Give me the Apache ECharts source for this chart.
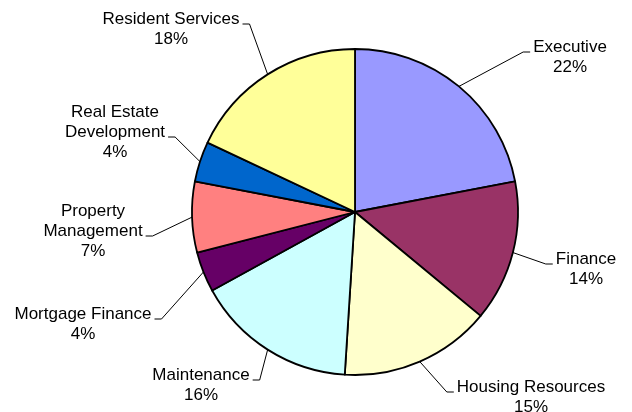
<!DOCTYPE html>
<html>
<head>
<meta charset="utf-8">
<title>Staff by Department</title>
<script src="https://cdn.jsdelivr.net/npm/echarts@6/dist/echarts.min.js"></script>
<style>
  html, body { margin: 0; padding: 0; background: #fff; }
  #chart { width: 632px; height: 412px; }
</style>
</head>
<body>
<div id="chart"></div>
<script>
// Departments, clockwise from 12 o'clock
const departments = [
  'Executive',
  'Finance',
  'Housing Resources',
  'Maintenance',
  'Mortgage Finance',
  'Property\nManagement',
  'Real Estate\nDevelopment',
  'Resident Services'
];

// Share of total, in percent
const shares = [22, 14, 15, 16, 4, 7, 4, 18];

const sliceColors = [
  '#9999FF', '#993366', '#FFFFCC', '#CCFFFF',
  '#660066', '#FF8080', '#0066CC', '#FFFF99'
];

// Label placement: [text centre x, baseline y of the first line]
const labelSpots = [
  [570, 53], [586, 265], [531, 393], [201, 381],
  [83, 320], [93, 217], [115, 118], [171, 25]
];

const CX = 355, CY = 212, R = 163;
const FONT = 17, LINE_H = 20, BASE_OFF = 16;

const chart = echarts.init(document.getElementById('chart'), null, { renderer: 'canvas' });

const total = shares.reduce((a, b) => a + b, 0);

function edgePoint(i) {
  let before = 0;
  for (let k = 0; k < i; k++) before += shares[k];
  const mid = (before + shares[i] / 2) / total * Math.PI * 2;
  return [CX + R * Math.sin(mid), CY - R * Math.cos(mid)];
}

chart.setOption({
  animation: false,
  backgroundColor: '#ffffff',
  series: [{
    type: 'pie',
    center: [CX, CY],
    radius: R,
    startAngle: 90,
    clockwise: true,
    avoidLabelOverlap: false,
    itemStyle: { borderColor: '#000', borderWidth: 1.8 },
    label: {
      show: true,
      position: 'outside',
      color: '#000',
      fontFamily: '"Liberation Sans", Arial, sans-serif',
      fontSize: FONT,
      lineHeight: LINE_H,
      formatter: p => p.name + '\n' + p.value + '%'
    },
    labelLine: {
      show: true,
      length: 10,
      length2: 8,
      lineStyle: { color: '#000', width: 1 }
    },
    labelLayout: function (p) {
      const i = p.dataIndex;
      const spot = labelSpots[i];
      const nameLines = departments[i].split('\n').length;
      const hookY = spot[1] + (nameLines - 1) * LINE_H - 1;
      const onRight = spot[0] > CX;
      const half = p.labelRect.width / 2;
      const endX = onRight ? spot[0] - half - 3 : spot[0] + half + 3;
      const elbowX = onRight ? endX - 7 : endX + 7;
      const start = (p.labelLinePoints && p.labelLinePoints[0]) || edgePoint(i);
      return {
        x: spot[0],
        y: spot[1] - BASE_OFF,
        align: 'center',
        verticalAlign: 'top',
        labelLinePoints: [start, [elbowX, hookY], [endX, hookY]]
      };
    },
    data: departments.map((name, i) => ({
      name: name,
      value: shares[i],
      itemStyle: { color: sliceColors[i] }
    }))
  }]
});
</script>
</body>
</html>
